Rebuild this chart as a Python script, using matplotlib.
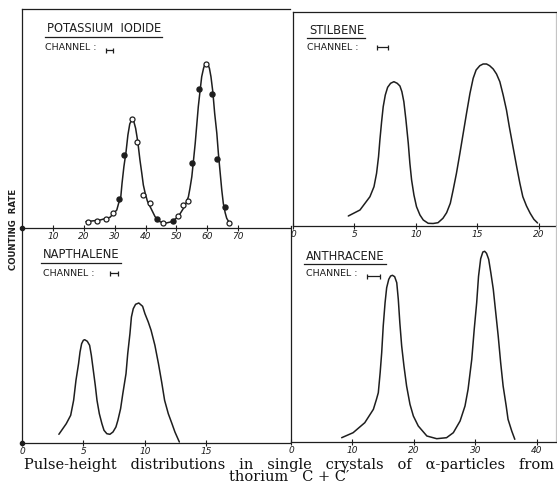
import matplotlib.pyplot as plt
from matplotlib.lines import Line2D

# ---- data (counting rate in arbitrary units) ----
ki_curve_x = [20.7, 25.3, 28.5, 30.7, 31.3, 32.0, 32.4, 33.0, 33.7, 34.3, 34.9, 35.5, 36.2, 36.8,
              37.5, 38.2, 38.8, 39.3, 39.9, 40.6, 41.5, 43.1, 44.7, 46.3, 48.5, 50.6, 52.3, 53.1,
              53.9, 54.4, 55.0, 55.5, 56.1, 56.6, 57.1, 57.7, 58.2, 58.8, 59.2, 59.6, 60.2, 60.7,
              61.2, 61.8, 62.4, 63.1, 63.6, 64.2, 64.7, 65.2, 65.8, 66.3, 67.4]
ki_curve_y = [6.3, 8, 10.7, 18, 24.7, 31.3, 44.7, 61.3, 76.3, 93, 104, 108, 106.7, 99.7,
              86.3, 68, 54.7, 43, 34.7, 27, 21.3, 11.3, 6.3, 4.7, 6.3, 11.3, 19.7, 24.7,
              31.3, 39.7, 51.3, 66.3, 84.7, 103, 121.3, 138, 151.3, 159.7, 163.3, 164.7, 163.7, 159.7,
              151.3, 136.3, 114.7, 94.7, 74.7, 54.7, 38, 24.7, 15.3, 9.7, 4]
ki_open_x = [21.5, 24.2, 27.2, 29.6, 35.5, 37.4, 39.3, 41.5, 45.8, 50.6, 52.1, 53.7, 59.6, 67.2]
ki_open_y = [6.3, 7.3, 8.7, 14.7, 108.7, 86.3, 33, 25.3, 5.3, 12, 23, 27, 163.7, 5.3]
ki_fill_x = [31.5, 33.1, 43.6, 48.8, 55.2, 57.4, 61.5, 63.3, 65.6]
ki_fill_y = [28.7, 73, 9, 7.3, 64.7, 138.7, 133.7, 68.7, 21.3]

stil_x = [4.5, 5.45, 6.26, 6.59, 6.8, 6.96, 7.07, 7.21, 7.34, 7.51, 7.7, 7.94, 8.21, 8.48, 8.7,
          8.86, 9.02, 9.19, 9.38, 9.51, 9.65, 9.84, 10.05, 10.33, 10.6, 11.0, 11.4, 11.8, 12.2,
          12.5, 12.8, 13.03, 13.3, 13.58, 13.85, 14.12, 14.4, 14.66, 14.9, 15.2, 15.47, 15.75,
          16.0, 16.29, 16.56, 16.83, 17.1, 17.37, 17.6, 17.9, 18.2, 18.46, 18.7, 19.0, 19.3,
          19.6, 19.9]
stil_y = [10, 16, 29.3, 39.3, 52.7, 69.3, 86, 104.3, 119.3, 131, 138.7, 142.7, 144.3, 142.7, 140,
          134.3, 124.3, 106, 82.7, 62.7, 46, 31, 19.3, 11, 6, 2.7, 2.5, 3.3, 7.7,
          13.3, 22.7, 36, 52.7, 72.7, 92.7, 112.7, 132.7, 147.7, 156, 160.3, 162, 162,
          160.3, 157, 152, 144.3, 131, 116, 99.3, 79.3, 59.3, 42.7, 29.3, 20, 12.7,
          6.7, 3]

naph_x = [3.0, 3.6, 3.96, 4.2, 4.39, 4.6, 4.72, 4.85, 4.99, 5.1, 5.31, 5.5, 5.64, 5.8, 5.96,
          6.1, 6.29, 6.5, 6.67, 6.9, 7.15, 7.4, 7.64, 7.8, 8.02, 8.2, 8.46, 8.6, 8.78, 8.9, 9.05,
          9.24, 9.5, 9.81, 10.0, 10.27, 10.5, 10.81, 11.1, 11.36, 11.6, 11.9, 12.2, 12.44, 12.8]
naph_y = [8.7, 19.3, 27.7, 42.7, 62.7, 79.3, 91, 99.3, 102.7, 103.3, 101.7, 97.7, 87.7, 72.7, 57.7,
          42.7, 29.3, 19.3, 12.7, 9.3, 8.7, 11, 16, 22.7, 34.3, 49.3, 69.3, 89.3, 109.3, 126, 134.3,
          138.7, 140, 136.7, 129.3, 121, 112.7, 97.7, 79.3, 61, 42.7, 29.3, 19.3, 11, 1]

anth_x = [8.24, 10.1, 12.0, 13.4, 13.9, 14.2, 14.5, 14.75, 15.0, 15.3, 15.56, 15.9, 16.2, 16.5,
          16.86, 17.2, 17.45, 17.7, 18.0, 18.37, 18.8, 19.35, 19.9, 20.7, 22.1, 23.7, 25.3, 26.4,
          27.5, 28.3, 28.8, 29.4, 29.8, 30.2, 30.5, 30.85, 31.2, 31.5, 31.8, 32.15, 32.5, 32.9,
          33.3, 33.7, 34.1, 34.5, 35.0, 35.3, 35.9, 36.4]
anth_y = [4.3, 9.3, 19.3, 32.7, 42.7, 49.3, 69.3, 89.3, 116, 139.3, 154.3, 162.7, 166, 166.7,
          165.3, 159.3, 142.7, 119.3, 96, 76, 56, 37.7, 26, 16, 6, 3.3, 4.3, 9.3,
          21, 36, 52.7, 82.7, 112.7, 139.3, 165.7, 183.3, 190, 190.7, 188.7, 182.7, 169.3, 152.7,
          129.3, 106, 79.3, 56, 36, 22.7, 11, 2.7]

names = ["POTASSIUM  IODIDE", "STILBENE", "NAPTHALENE", "ANTHRACENE"]
ticks = [[10, 20, 30, 40, 50, 60, 70], [0, 5, 10, 15, 20], [0, 5, 10, 15], [0, 10, 20, 30, 40]]
channel_width = [2.3, 0.9, 0.65, 2.1]
caption = ("Pulse-height   distributions   in   single   crystals   of   \u03b1-particles   from\n"
           "thorium   C + C\u2032")

W, H = 557, 497
ink = "#1e1e1e"
fig = plt.figure(figsize=(W / 100, H / 100), dpi=100)


def px_axes(l, t, r, b):
    return fig.add_axes([l / W, 1 - b / H, (r - l) / W, (b - t) / H])


# pixel rects (left, top, right, bottom), limits, channel marker spot
panels = [
    ((22, 9, 290, 228), (0, 86.8), (0, 219), (28.3, 178)),
    ((293, 12, 556, 226), (0, 21.4), (0, 214), (7.3, 179)),
    ((22, 228, 290, 443), (0, 21.8), (0, 215), (7.5, 170)),
    ((291, 226, 556, 442), (0, 43.1), (0, 216), (13.4, 166)),
]
curves = [(ki_curve_x, ki_curve_y), (stil_x, stil_y), (naph_x, naph_y), (anth_x, anth_y)]

axes = []
for i, (rect, xl, yl, chan) in enumerate(panels):
    ax = px_axes(*rect)
    ax.set_xlim(*xl)
    ax.set_ylim(*yl)
    ax.patch.set_alpha(0)
    for s in ax.spines.values():
        s.set_color(ink)
        s.set_linewidth(0.9)
    ax.spines["top"].set_visible(i < 2)
    ax.spines["right"].set_visible(i % 2 == 1)
    if i % 2 == 1:
        ax.spines["right"].set_color("#c4c4c4")
    ax.set_yticks([])
    ax.set_xticks(ticks[i])
    ax.tick_params(axis="x", direction="inout", length=4, width=0.8, color=ink,
                   labelsize=6.5, labelcolor=ink, pad=1)
    for lab in ax.get_xticklabels():
        lab.set_fontstyle("italic")
    cx, cy = curves[i]
    ax.plot(cx, cy, color=ink, lw=1.1, solid_capstyle="round", solid_joinstyle="round")
    ax.errorbar([chan[0]], [chan[1]], xerr=[channel_width[i] / 2], fmt="none",
                ecolor=ink, elinewidth=0.9, capsize=1.8, capthick=0.9)
    if i % 2 == 0:
        ax.plot([0], [0], "o", color=ink, ms=3, clip_on=False)
    axes.append(ax)

ax_ki = axes[0]
ax_ki.plot(ki_open_x, ki_open_y, "o", mfc="white", mec=ink, mew=0.9, ms=3.6)
ax_ki.plot(ki_fill_x, ki_fill_y, "o", mfc=ink, mec=ink, ms=3.6)

# titles and channel labels (pixel positions)
title_pos = [(47, 29), (309, 30), (43, 255), (306, 256)]
chan_pos = [(45, 47), (307, 47), (43, 273), (306, 273)]
titles = []
for (tx, ty), (cx, cy), nm in zip(title_pos, chan_pos, names):
    t = fig.text(tx / W, 1 - ty / H, nm, fontsize=8.3, color=ink, va="center", ha="left")
    titles.append(t)
    fig.text(cx / W, 1 - cy / H, "CHANNEL :", fontsize=6.8, color=ink, va="center", ha="left")

fig.text(14 / W, 1 - 229 / H, "COUNTING  RATE", rotation=90, fontsize=6.2, color=ink,
         ha="center", va="center", weight="bold")

fig.text(289 / W, 1 - 471 / H, caption, fontsize=10.5, family="DejaVu Serif",
         ha="center", va="center", color="#111111", linespacing=0.9)

# underline the titles
fig.canvas.draw()
r = fig.canvas.get_renderer()
for t in titles:
    bb = t.get_window_extent(r)
    y = bb.y0 - 1
    fig.add_artist(Line2D([bb.x0 / W - 0.004, bb.x1 / W + 0.002], [y / H, y / H],
                          transform=fig.transFigure, color=ink, lw=0.9))

fig.savefig("out.png", dpi=100)
